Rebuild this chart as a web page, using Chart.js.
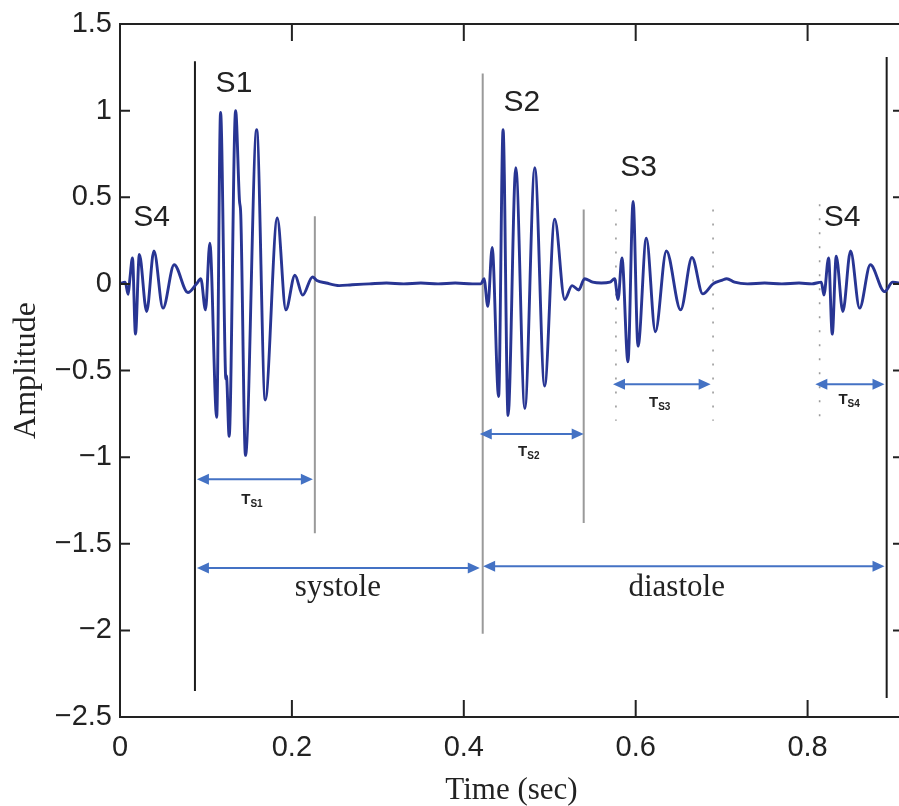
<!DOCTYPE html>
<html>
<head>
<meta charset="utf-8">
<title>Heart sound phonocardiogram</title>
<script src="https://cdn.jsdelivr.net/npm/chart.js@4.4.1/dist/chart.umd.min.js"></script>
<style>
  html, body { margin: 0; padding: 0; overflow: hidden; background: #fff; }
  #wrap { width: 906px; height: 806px; }
</style>
</head>
<body>
<div id="wrap"><canvas id="pcgChart" width="906" height="806"></canvas></div>
<script>
// waveform: time (sec) and amplitude
const timeSec = [
  0, 0.006, 0.0095, 0.0115, 0.0145, 0.018, 0.0225, 0.031, 0.0395, 0.050, 0.063, 0.079, 0.089,
  0.094, 0.0995, 0.1045, 0.1125, 0.117, 0.1225, 0.1232, 0.1238, 0.127, 0.1345, 0.139, 0.1405,
  0.146, 0.159, 0.169, 0.183, 0.193, 0.2035, 0.2125, 0.224, 0.229,
  0.240, 0.255, 0.270, 0.290, 0.310, 0.330, 0.350, 0.370, 0.390, 0.410, 0.420,
  0.4235, 0.428, 0.433, 0.4405, 0.4457, 0.4515, 0.4605, 0.471, 0.4826, 0.494, 0.5058, 0.5174,
  0.526, 0.5337, 0.5405, 0.550, 0.560, 0.570, 0.5755,
  0.5795, 0.584, 0.591, 0.597, 0.6027, 0.6124, 0.6229, 0.6357, 0.6523, 0.6655, 0.678, 0.690,
  0.700, 0.706, 0.715, 0.730, 0.750, 0.770, 0.790, 0.805, 0.816,
  0.819, 0.8244, 0.8287, 0.8333, 0.841, 0.850, 0.8605, 0.873, 0.8895, 0.899, 0.911
];
const amplitude = [
  0, 0.01, -0.06, 0.03, 0.15, -0.29, 0.17, -0.16, 0.19, -0.14, 0.11, -0.05, 0,
  0.03, -0.15, 0.235, -0.77, 0.99, -0.48, -0.55, -0.53, -0.88, 1.0, 0.48, 0.40,
  -0.99, 0.89, -0.67, 0.38, -0.15, 0.05, -0.065, 0.04, 0.02,
  0.005, -0.01, -0.005, 0, 0.005, 0, 0.005, 0, 0.005, 0, 0,
  0.03, -0.13, 0.21, -0.65, 0.89, -0.76, 0.67, -0.72, 0.67, -0.59, 0.374, -0.09,
  -0.01, -0.035, 0.03, 0.01, 0.005, 0.01, 0.03,
  -0.09, 0.15, -0.45, 0.476, -0.36, 0.264, -0.276, 0.19, -0.15, 0.152, -0.058, 0,
  0.02, 0.03, 0.01, 0, 0.005, 0, 0.005, 0, 0.01,
  -0.064, 0.15, -0.29, 0.16, -0.16, 0.19, -0.14, 0.11, -0.045, 0.01, 0
];

// vertical marker lines
const markerTime   = [0.0872, 0.2267, 0.422, 0.5395, 0.577, 0.690, 0.814, 0.892];
const markerTop    = [1.285, 0.39, 1.214, 0.43, 0.43, 0.43, 0.46, 1.31];
const markerBottom = [-2.35, -1.44, -2.02, -1.38, -0.79, -0.79, -0.82, -2.39];

// double arrows: T_S1..T_S4, systole, diastole
const arrowFrom  = [0.0895, 0.4186, 0.5736, 0.809, 0.0895, 0.4225];
const arrowTo    = [0.2244, 0.5395, 0.6872, 0.8895, 0.4186, 0.8895];
const arrowLevel = [-1.127, -0.867, -0.58, -0.58, -1.64, -1.63];

// sound names
const soundNames = ['S4', 'S1', 'S2', 'S3', 'S4'];
const soundTime  = [0.0368, 0.1326, 0.4674, 0.6035, 0.840];
const soundLevel = [0.384, 1.156, 1.043, 0.669, 0.381];

// interval names (T with subscript)
const intervalSub   = ['S1', 'S2', 'S3', 'S4'];
const intervalTime  = [0.1535, 0.4756, 0.6279, 0.8483];
const intervalLevel = [-1.24, -0.965, -0.68, -0.665];

// phase names
const phaseNames = ['systole', 'diastole'];
const phaseTime  = [0.2535, 0.6477];
const phaseLevel = [-1.757, -1.757];

const xTicks = [0, 0.2, 0.4, 0.6, 0.8];
const yTicks = [-2.5, -2, -1.5, -1, -0.5, 0, 0.5, 1, 1.5];

const ink = '#222';
const arrowBlue = '#4472C4';

function markerLook(i) {
  if (i === 0 || i === 7) return { color: '#1c1c1c', width: 2, dash: [] };
  if (i >= 4 && i <= 6) return { color: '#9a9a9a', width: 1.6, dash: [2, 12] };
  return { color: '#9a9a9a', width: 2, dash: [] };
}

const datasets = [{
  data: timeSec.map((t, i) => ({ x: t, y: amplitude[i] })),
  borderColor: '#283593',
  borderWidth: 2.9,
  pointRadius: 0,
  cubicInterpolationMode: 'monotone',
  borderJoinStyle: 'round'
}];
markerTime.forEach((t, i) => {
  const look = markerLook(i);
  datasets.push({
    data: [{ x: t, y: markerTop[i] }, { x: t, y: markerBottom[i] }],
    borderColor: look.color,
    borderWidth: look.width,
    borderDash: look.dash,
    pointRadius: 0
  });
});

function minusLabel(v) {
  return v < 0 ? '\u2212' + Math.abs(v) : String(v);
}

const overlay = {
  id: 'overlay',
  afterDatasetsDraw(chart) {
    const { ctx, chartArea: a, scales: { x, y } } = chart;
    ctx.save();

    // box + inward ticks
    ctx.strokeStyle = ink;
    ctx.lineWidth = 2;
    ctx.strokeRect(a.left, a.top, a.right - a.left, a.bottom - a.top);
    ctx.beginPath();
    xTicks.forEach(v => {
      const px = x.getPixelForValue(v);
      ctx.moveTo(px, a.bottom); ctx.lineTo(px, a.bottom - 17);
      ctx.moveTo(px, a.top); ctx.lineTo(px, a.top + 17);
    });
    yTicks.forEach(v => {
      const py = y.getPixelForValue(v);
      ctx.moveTo(a.left, py); ctx.lineTo(a.left + 10, py);
      ctx.moveTo(a.right, py); ctx.lineTo(a.right - 10, py);
    });
    ctx.stroke();

    // double arrows
    ctx.strokeStyle = arrowBlue;
    ctx.fillStyle = arrowBlue;
    ctx.lineWidth = 2;
    arrowFrom.forEach((t0, i) => {
      const x0 = x.getPixelForValue(t0);
      const x1 = x.getPixelForValue(arrowTo[i]);
      const py = y.getPixelForValue(arrowLevel[i]);
      ctx.beginPath();
      ctx.moveTo(x0 + 6, py); ctx.lineTo(x1 - 6, py);
      ctx.stroke();
      ctx.beginPath();
      ctx.moveTo(x0, py); ctx.lineTo(x0 + 12, py - 5.5); ctx.lineTo(x0 + 12, py + 5.5);
      ctx.closePath();
      ctx.moveTo(x1, py); ctx.lineTo(x1 - 12, py - 5.5); ctx.lineTo(x1 - 12, py + 5.5);
      ctx.closePath();
      ctx.fill();
    });

    // S1..S4 names
    ctx.fillStyle = ink;
    ctx.textAlign = 'center';
    ctx.textBaseline = 'middle';
    ctx.font = '30px "Liberation Sans", Arial, sans-serif';
    soundNames.forEach((s, i) => {
      ctx.fillText(s, x.getPixelForValue(soundTime[i]), y.getPixelForValue(soundLevel[i]));
    });

    // T_Sn names
    intervalSub.forEach((s, i) => {
      const cx = x.getPixelForValue(intervalTime[i]);
      const cy = y.getPixelForValue(intervalLevel[i]);
      ctx.font = 'bold 15px "Liberation Sans", Arial, sans-serif';
      const wT = ctx.measureText('T').width;
      ctx.font = 'bold 10px "Liberation Sans", Arial, sans-serif';
      const wS = ctx.measureText(s).width;
      const left = cx - (wT + wS) / 2;
      ctx.textAlign = 'left';
      ctx.textBaseline = 'alphabetic';
      ctx.font = 'bold 15px "Liberation Sans", Arial, sans-serif';
      ctx.fillText('T', left, cy + 5);
      ctx.font = 'bold 10px "Liberation Sans", Arial, sans-serif';
      ctx.fillText(s, left + wT, cy + 8);
    });

    // systole / diastole
    ctx.textAlign = 'center';
    ctx.textBaseline = 'middle';
    ctx.font = '31px "Liberation Serif", "Times New Roman", serif';
    phaseNames.forEach((s, i) => {
      ctx.fillText(s, x.getPixelForValue(phaseTime[i]), y.getPixelForValue(phaseLevel[i]));
    });

    ctx.restore();
  }
};

new Chart(document.getElementById('pcgChart'), {
  type: 'line',
  data: { datasets },
  options: {
    responsive: false,
    animation: false,
    events: [],
    layout: { padding: { top: 24, right: 3, left: 0, bottom: 0 } },
    plugins: { legend: { display: false }, tooltip: { enabled: false } },
    scales: {
      x: {
        type: 'linear',
        min: 0,
        max: 0.911,
        afterBuildTicks: s => { s.ticks = xTicks.map(v => ({ value: v })); },
        afterFit: s => { s.height = 89; },
        grid: { display: false },
        border: { display: false },
        ticks: {
          padding: 6,
          color: ink,
          maxRotation: 0,
          font: { family: '"Liberation Sans", Arial, sans-serif', size: 29 },
          callback: v => minusLabel(v)
        },
        title: {
          display: true,
          text: 'Time (sec)',
          color: ink,
          padding: { top: 1, bottom: 0 },
          font: { family: '"Liberation Serif", "Times New Roman", serif', size: 31, lineHeight: 1 }
        }
      },
      y: {
        type: 'linear',
        min: -2.5,
        max: 1.5,
        afterBuildTicks: s => { s.ticks = yTicks.map(v => ({ value: v })); },
        afterFit: s => { s.width = 120; },
        grid: { display: false },
        border: { display: false },
        ticks: {
          padding: 0,
          color: ink,
          font: { family: '"Liberation Sans", Arial, sans-serif', size: 29 },
          callback: v => minusLabel(v)
        },
        title: {
          display: true,
          text: 'Amplitude',
          color: ink,
          padding: { top: 11, bottom: 0 },
          font: { family: '"Liberation Serif", "Times New Roman", serif', size: 32, lineHeight: 1 }
        }
      }
    }
  },
  plugins: [overlay]
});
</script>
</body>
</html>
